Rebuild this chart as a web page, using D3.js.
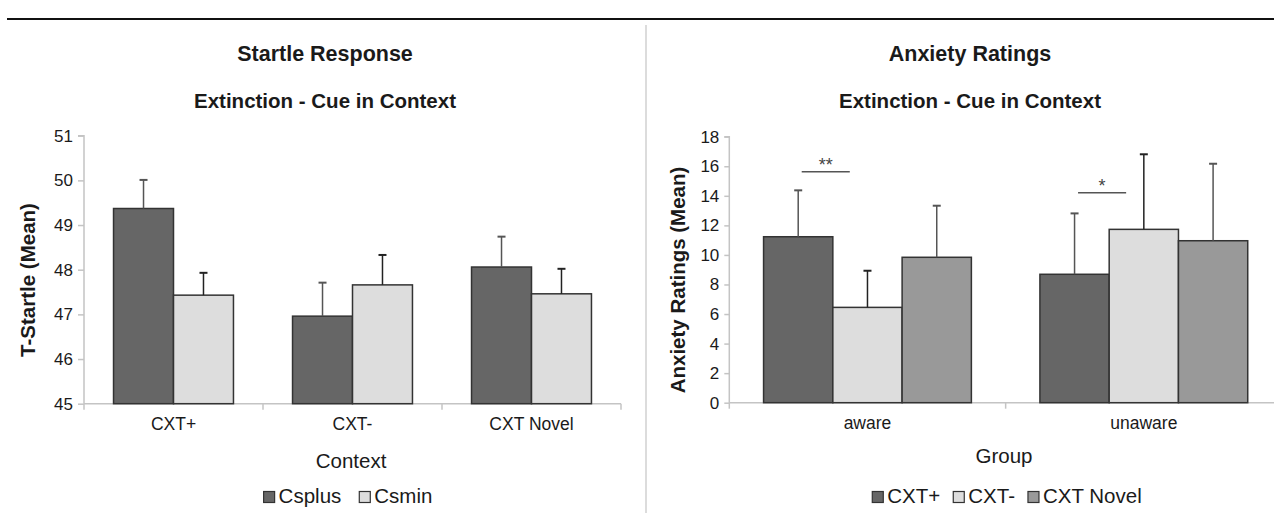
<!DOCTYPE html>
<html>
<head>
<meta charset="utf-8">
<script src="https://cdn.jsdelivr.net/npm/d3@7"></script>
<style>
  html, body { margin: 0; padding: 0; background: #fff; }
  svg { display: block; font-family: "Liberation Sans", Arial, sans-serif; }
</style>
</head>
<body>
<svg id="chart" width="1274" height="513"></svg>
<script>
// ---- Startle response panel ----
const startleContexts = ["CXT+", "CXT-", "CXT Novel"];
const startleSeries = ["Csplus", "Csmin"];
const startleCsplus = [49.37, 46.96, 48.06];
const startleCsplusErr = [0.64, 0.75, 0.68];
const startleCsmin = [47.43, 47.66, 47.46];
const startleCsminErr = [0.50, 0.67, 0.56];
const startleTicks = [45, 46, 47, 48, 49, 50, 51];

// ---- Anxiety ratings panel ----
const anxietyGroups = ["aware", "unaware"];
const anxietySeries = ["CXT+", "CXT-", "CXT Novel"];
const anxietyCxtPlus = [11.23, 8.69];
const anxietyCxtPlusErr = [3.14, 4.12];
const anxietyCxtMinus = [6.45, 11.73];
const anxietyCxtMinusErr = [2.48, 5.08];
const anxietyCxtNovel = [9.84, 10.96];
const anxietyCxtNovelErr = [3.49, 5.21];
const anxietyTicks = [0, 2, 4, 6, 8, 10, 12, 14, 16, 18];

// significance markers: group, label, height of the bar line
const sigGroups = ["aware", "unaware"];
const sigLabels = ["**", "*"];
const sigLevels = [15.63, 14.21];

const fills = { dark: "#666666", light: "#dddddd", mid: "#999999" };
const svg = d3.select("#chart");
const FONT = "'Liberation Sans', Arial, sans-serif";
const axisGrey = "#c4c4c4";
const textCol = "#1a1a1a";

// page frame: top rule and panel divider
svg.append("line").attr("x1", 7).attr("x2", 1274).attr("y1", 19).attr("y2", 19)
  .attr("stroke", "#111").attr("stroke-width", 2);
svg.append("line").attr("x1", 646).attr("x2", 646).attr("y1", 25).attr("y2", 513)
  .attr("stroke", "#dcdcdc").attr("stroke-width", 2);

function drawPanel(cfg) {
  const g = svg.append("g");
  const x0 = d3.scaleBand().domain(cfg.categories).range([cfg.left, cfg.right]).paddingInner(0).paddingOuter(0);
  const x1 = d3.scaleBand().domain(cfg.series)
    .range([x0.bandwidth() * cfg.pad, x0.bandwidth() * (1 - cfg.pad)]).padding(0);
  const y = d3.scaleLinear().domain(cfg.domain).range([cfg.bottom, cfg.top]);

  // titles
  g.append("text").attr("x", cfg.titleX).attr("y", 61).attr("text-anchor", "middle")
    .attr("font-size", 21.5).attr("font-weight", "bold").attr("fill", textCol).text(cfg.title);
  g.append("text").attr("x", cfg.titleX).attr("y", 108).attr("text-anchor", "middle")
    .attr("font-size", 20.5).attr("font-weight", "bold").attr("fill", textCol).text(cfg.subtitle);

  // y axis
  const yAxis = d3.axisLeft(y).tickValues(cfg.ticks).tickFormat(d3.format("d"))
    .tickSize(cfg.tickLen).tickPadding(5);
  const ya = g.append("g").attr("transform", `translate(${cfg.left},0)`).call(yAxis);
  ya.select(".domain").attr("stroke", axisGrey).attr("stroke-width", 1.5)
    .attr("d", `M-${cfg.tickLen},${cfg.top}H0V${cfg.bottom}`);
  ya.selectAll(".tick line").attr("stroke", axisGrey).attr("stroke-width", 1.5);
  ya.selectAll(".tick text").attr("font-family", FONT).attr("font-size", 17).attr("fill", textCol);

  // x axis with ticks at category boundaries
  const xa = g.append("g").attr("transform", `translate(0,${cfg.bottom})`);
  xa.append("line").attr("x1", cfg.left).attr("x2", cfg.right).attr("y1", 0).attr("y2", 0)
    .attr("stroke", axisGrey).attr("stroke-width", 1.5);
  const bounds = cfg.categories.map(c => x0(c)).concat([x0(cfg.categories[cfg.categories.length - 1]) + x0.bandwidth()]);
  xa.selectAll("line.tk").data(bounds).join("line").attr("class", "tk")
    .attr("x1", d => d).attr("x2", d => d).attr("y1", 0).attr("y2", 6)
    .attr("stroke", axisGrey).attr("stroke-width", 1.5);
  xa.selectAll("text").data(cfg.categories).join("text")
    .attr("x", d => x0(d) + x0.bandwidth() / 2).attr("y", 26.5)
    .attr("text-anchor", "middle").attr("font-size", 17.5).attr("fill", textCol).text(d => d);

  // axis titles
  g.append("text").attr("transform", `translate(${cfg.yTitleX},280) rotate(-90)`)
    .attr("text-anchor", "middle").attr("font-size", 20.5).attr("font-weight", "bold")
    .attr("fill", textCol).text(cfg.yTitle);
  g.append("text").attr("x", cfg.xTitleX).attr("y", cfg.xTitleY).attr("text-anchor", "middle")
    .attr("font-size", 20.5).attr("fill", textCol).text(cfg.xTitle);

  // bars
  const rows = [];
  cfg.categories.forEach((c, i) => cfg.series.forEach((s, j) => {
    rows.push({ c, s, v: cfg.values[j][i], e: cfg.errors[j][i], fill: cfg.colors[j], whisker: cfg.whiskers[j] });
  }));
  const bars = g.append("g");
  bars.selectAll("rect").data(rows).join("rect")
    .attr("x", d => x0(d.c) + x1(d.s))
    .attr("y", d => y(d.v))
    .attr("width", x1.bandwidth())
    .attr("height", d => y(cfg.domain[0]) - y(d.v))
    .attr("fill", d => d.fill).attr("stroke", "#333").attr("stroke-width", 1.5);

  // error bars (upper only)
  const eb = g.append("g");
  rows.forEach(d => {
    const cx = x0(d.c) + x1(d.s) + x1.bandwidth() / 2;
    eb.append("line").attr("x1", cx).attr("x2", cx).attr("y1", y(d.v)).attr("y2", y(d.v + d.e))
      .attr("stroke", d.whisker).attr("stroke-width", 1.5);
    eb.append("line").attr("x1", cx - 4).attr("x2", cx + 4).attr("y1", y(d.v + d.e)).attr("y2", y(d.v + d.e))
      .attr("stroke", d.whisker).attr("stroke-width", 2);
  });

  // legend
  const lg = g.append("g").attr("font-size", 20.5).attr("fill", textCol);
  let cursor = 0;
  cfg.series.forEach((s, j) => {
    const it = lg.append("g");
    it.append("rect").attr("x", 0).attr("y", -11.5).attr("width", 11).attr("height", 11)
      .attr("fill", cfg.colors[j]).attr("stroke", "#333").attr("stroke-width", 1.2);
    const t = it.append("text").attr("x", 15).attr("y", 0).text(s);
    const w = 15 + t.node().getComputedTextLength();
    it.attr("transform", `translate(${cursor},0)`);
    cursor += w + cfg.legendGap;
  });
  const total = cursor - cfg.legendGap;
  lg.attr("transform", `translate(${cfg.legendCenter - total / 2},${cfg.legendY})`);

  return { g, x0, y };
}

drawPanel({
  categories: startleContexts, series: startleSeries,
  values: [startleCsplus, startleCsmin], errors: [startleCsplusErr, startleCsminErr],
  colors: [fills.dark, fills.light], whiskers: ["#555", "#222"],
  left: 84, right: 621, top: 135.7, bottom: 403.7, domain: [45, 51], ticks: startleTicks,
  tickLen: 6, pad: 0.165,
  title: "Startle Response", subtitle: "Extinction - Cue in Context", titleX: 325,
  yTitle: "T-Startle (Mean)", yTitleX: 35,
  xTitle: "Context", xTitleX: 351, xTitleY: 468,
  legendCenter: 348, legendY: 503, legendGap: 18
});

const right = drawPanel({
  categories: anxietyGroups, series: anxietySeries,
  values: [anxietyCxtPlus, anxietyCxtMinus, anxietyCxtNovel],
  errors: [anxietyCxtPlusErr, anxietyCxtMinusErr, anxietyCxtNovelErr],
  colors: [fills.dark, fills.light, fills.mid], whiskers: ["#555", "#222", "#555"],
  left: 729.3, right: 1282, top: 136.7, bottom: 402.7, domain: [0, 18], ticks: anxietyTicks,
  tickLen: 5, pad: 0.124,
  title: "Anxiety Ratings", subtitle: "Extinction - Cue in Context", titleX: 970,
  yTitle: "Anxiety Ratings (Mean)", yTitleX: 685,
  xTitle: "Group", xTitleX: 1004, xTitleY: 463,
  legendCenter: 1007, legendY: 503, legendGap: 13
});

// significance brackets over the CXT+ / CXT- pair
const sig = right.g.append("g");
sigGroups.forEach((grp, i) => {
  const bx = right.x0(grp), bw = right.x0.bandwidth();
  const yy = right.y(sigLevels[i]);
  sig.append("line").attr("x1", bx + bw * 0.262).attr("x2", bx + bw * 0.436)
    .attr("y1", yy).attr("y2", yy).attr("stroke", "#555").attr("stroke-width", 1.5);
  sig.append("text").attr("x", bx + bw * 0.349).attr("y", yy - 1)
    .attr("text-anchor", "middle").attr("font-size", 18).attr("fill", "#444").text(sigLabels[i]);
});
</script>
</body>
</html>
